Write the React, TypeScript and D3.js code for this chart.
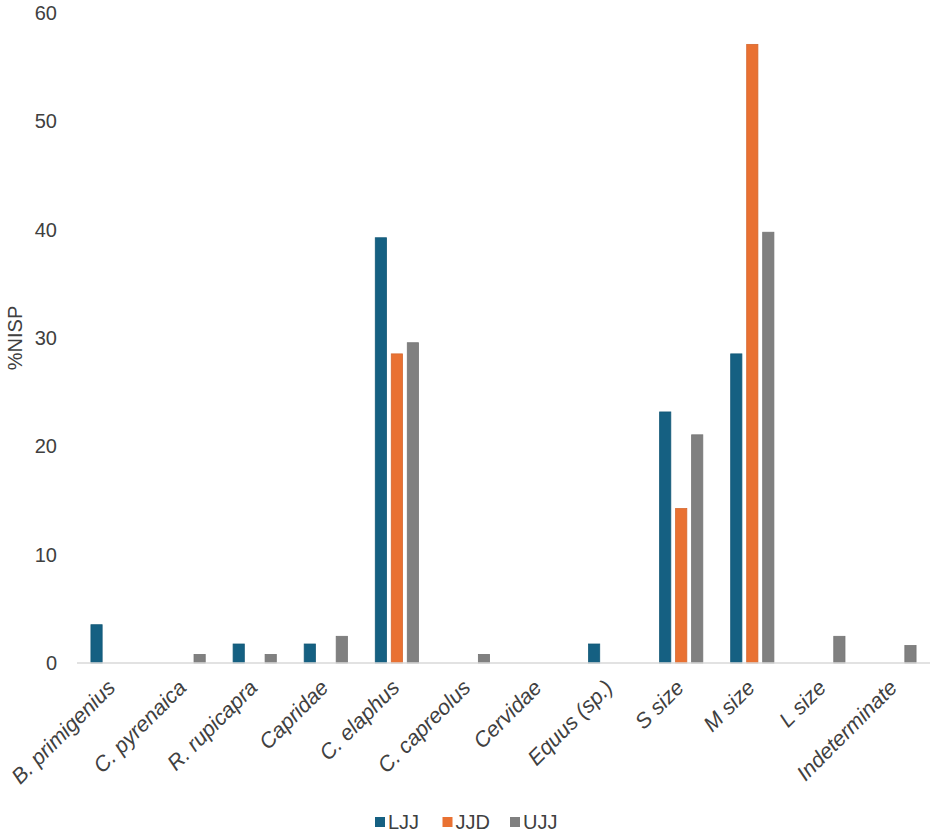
import React from "react";
import * as d3 from "d3";

const categories = [
  "B. primigenius",
  "C. pyrenaica",
  "R. rupicapra",
  "Capridae",
  "C. elaphus",
  "C. capreolus",
  "Cervidae",
  "Equus (sp.)",
  "S size",
  "M size",
  "L size",
  "Indeterminate",
];
const seriesNames = ["LJJ", "JJD", "UJJ"];
const LJJ = [3.57, 0, 1.79, 1.79, 39.29, 0, 0, 1.79, 23.21, 28.57, 0, 0];
const JJD = [0, 0, 0, 0, 28.57, 0, 0, 0, 14.29, 57.14, 0, 0];
const UJJ = [0, 0.83, 0.83, 2.5, 29.6, 0.83, 0, 0, 21.1, 39.8, 2.5, 1.65];
const yTicks = [0, 10, 20, 30, 40, 50, 60];
const colors = ["#156082", "#E97132", "#808080"];

const W = 935;
const H = 836;

export default function App() {
  const values = [LJJ, JJD, UJJ];
  const x0 = d3.scaleBand<string>().domain(categories).range([77, 930]).padding(0);
  const groupW = 48;
  const x1 = d3
    .scaleBand<string>()
    .domain(seriesNames)
    .range([0, groupW])
    .paddingInner(0.25)
    .paddingOuter(0.125);
  const y = d3.scaleLinear().domain([0, 60]).range([663, 13]);
  const textColor = "#404040";
  const font = "'Liberation Sans', Arial, sans-serif";

  return (
    <svg
      width={W}
      height={H}
      style={{ position: "absolute", left: 0, top: 0, background: "#fff" }}
      fontFamily={font}
    >
      {yTicks.map((t) => (
        <text
          key={t}
          x={57}
          y={y(t)}
          dy="0.35em"
          textAnchor="end"
          fontSize={20}
          fill={textColor}
        >
          {t}
        </text>
      ))}
      <text
        transform={`translate(22,${(y(0) + y(60)) / 2}) rotate(-90)`}
        textAnchor="middle"
        fontSize={20}
        fill={textColor}
      >
        %NISP
      </text>
      {categories.map((c, ci) => {
        const off = (x0(c) as number) + (x0.bandwidth() - groupW) / 2;
        return (
          <g key={c}>
            {seriesNames.map((s, si) => {
              const v = values[si][ci];
              if (!v) return null;
              const col = d3.color(colors[si])!.darker(0.25).formatHex();
              return (
                <rect
                  key={s}
                  x={off + (x1(s) as number) + 0.4}
                  y={y(v) + 0.4}
                  width={x1.bandwidth() - 0.8}
                  height={y(0) - y(v) - 0.4}
                  fill={colors[si]}
                  stroke={col}
                  strokeWidth={0.8}
                />
              );
            })}
          </g>
        );
      })}
      <line x1={77} x2={930} y1={y(0)} y2={y(0)} stroke="#d9d9d9" strokeWidth={1.5} />
      {categories.map((c) => {
        const cx = (x0(c) as number) + x0.bandwidth() / 2 + 4;
        return (
          <text
            key={c}
            transform={`translate(${cx},689) rotate(-45)`}
            textAnchor="end"
            fontSize={21.5}
            fontStyle="italic"
            fill={textColor}
          >
            {c}
          </text>
        );
      })}
      {seriesNames.map((s, i) => {
        const lx = 375 + i * 67.5;
        return (
          <g key={s}>
            <rect x={lx} y={817} width={10} height={10} fill={colors[i]} />
            <text x={lx + 13} y={822} dy="0.35em" fontSize={20} fill={textColor}>
              {s}
            </text>
          </g>
        );
      })}
    </svg>
  );
}
